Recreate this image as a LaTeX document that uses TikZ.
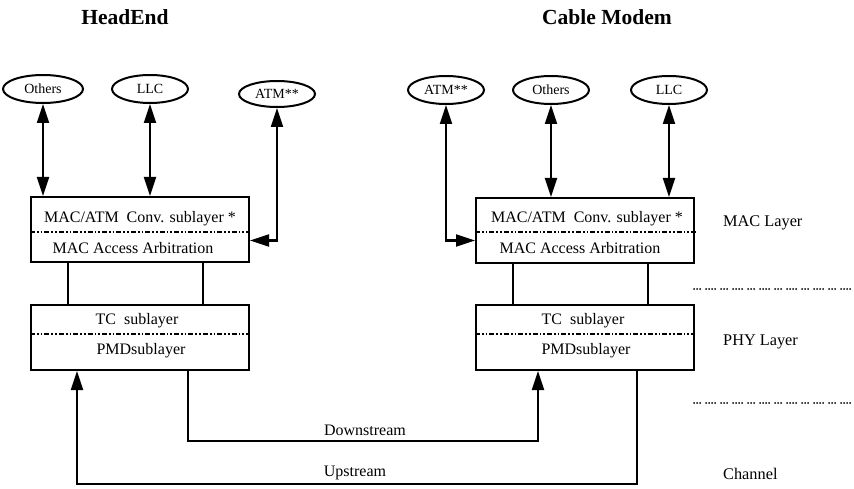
\documentclass[tikz,border=0pt]{standalone}
\usepackage{fontspec}
\setmainfont{Liberation Serif}
\usetikzlibrary{arrows.meta,shapes.geometric}
\begin{document}
\begin{tikzpicture}[x=1pt,y=-1pt,
  title/.style={font=\fontsize{21.5}{25}\selectfont\bfseries},
  proto/.style={draw,ellipse,line width=2pt,minimum width=76pt,minimum height=28pt,inner sep=0pt,font=\fontsize{14}{16}\selectfont},
  layerbox/.style={draw,line width=2pt,minimum width=218pt,minimum height=65pt,inner sep=0pt,anchor=north west},
  boxtext/.style={font=\fontsize{16}{19}\selectfont,inner sep=0pt},
  sidetext/.style={font=\fontsize{16.3}{19}\selectfont,inner sep=0pt,anchor=west},
  chantext/.style={font=\fontsize{16}{19}\selectfont,inner sep=0pt},
  sep/.style={line width=1.7pt,dash pattern=on 5pt off 2pt on 1.7pt off 2pt on 1.7pt off 2pt},
  divider/.style={line width=2pt,line cap=round,dash pattern=on 0pt off 3pt on 0pt off 3pt on 0pt off 6pt on 0pt off 3pt on 0pt off 3pt on 0pt off 3pt on 0pt off 6pt},
  link/.style={line width=2pt},
  arr/.style={line width=2.2pt,-{Triangle[length=19pt,width=12pt]}},
  dbl/.style={line width=2.2pt,{Triangle[length=19pt,width=12pt]}-{Triangle[length=19pt,width=12pt]}}
]
\useasboundingbox (0,0) rectangle (854,489);

% titles
\node[title] (he) at (125,17) {HeadEnd};
\node[title] (cm) at (607,17) {Cable Modem};

% upper-layer protocols
\node[proto,minimum width=80pt] (oth1) at (43,89) {Others};
\node[proto] (llc1) at (150,89) {LLC};
\node[proto,minimum height=26pt] (atm1) at (277,94) {ATM**};
\node[proto] (atm2) at (446,90) {ATM**};
\node[proto] (oth2) at (551,90) {Others};
\node[proto] (llc2) at (669,90) {LLC};

% layer boxes
\node[layerbox] (mac1) at (30,196) {};
\node[layerbox] (phy1) at (30,304) {};
\node[layerbox] (mac2) at (475,197) {};
\node[layerbox] (phy2) at (475,304) {};

% sublayer separators
\coordinate (s1) at (0,232);
\coordinate (s2) at (0,334);
\coordinate (s2e) at (696,0);
\draw[sep] (mac1.west |- s1) -- (mac1.east |- s1);
\draw[sep] (phy1.west |- s2) -- (phy1.east |- s2);
\draw[sep] (mac2.west |- s1) -- (s2e |- s1);
\draw[sep] (phy2.west |- s2) -- (phy2.east |- s2);

% box texts
\node[boxtext] (t1) at (140,219) {MAC/ATM\ \ Conv. sublayer *};
\node[boxtext] (t2) at (133,248) {MAC Access Arbitration};
\node[boxtext] (t3) at (137,321) {TC\ \ sublayer};
\node[boxtext] (t4) at (141,351) {PMDsublayer};
\node[boxtext] (t5) at (587,219) {MAC/ATM\ \ Conv. sublayer *};
\node[boxtext] (t6) at (580,248) {MAC Access Arbitration};
\node[boxtext] (t7) at (583,321) {TC\ \ sublayer};
\node[boxtext] (t8) at (586,351) {PMDsublayer};

% protocol arrows
\draw[dbl] (oth1.south) -- (oth1.south |- mac1.north);
\draw[dbl] (llc1.south) -- (llc1.south |- mac1.north);
\draw[dbl] (atm1.south) |- ([yshift=-11pt]mac1.east);
\draw[dbl] (oth2.south) -- (oth2.south |- mac2.north);
\draw[dbl] (llc2.south) -- (llc2.south |- mac2.north);
\draw[dbl] (atm2.south) |- ([yshift=-10pt]mac2.west);

% MAC to PHY links
\draw[link] ([xshift=38pt]mac1.south west) -- ([xshift=38pt]phy1.north west);
\draw[link] ([xshift=173pt]mac1.south west) -- ([xshift=173pt]phy1.north west);
\draw[link] ([xshift=38pt]mac2.south west) -- ([xshift=38pt]phy2.north west);
\draw[link] ([xshift=173pt]mac2.south west) -- ([xshift=173pt]phy2.north west);

% channel paths
\coordinate (dsrc) at ([xshift=158pt]phy1.south west);
\coordinate (ddst) at ([xshift=63pt]phy2.south west);
\coordinate (usrc) at ([xshift=162pt]phy2.south west);
\coordinate (udst) at ([xshift=47pt]phy1.south west);
\coordinate (dn) at (0,441);
\coordinate (up) at (0,484);
\draw[arr] (dsrc) -- (dsrc |- dn) -- (ddst |- dn) -- (ddst);
\draw[arr] (usrc) -- (usrc |- up) -- (udst |- up) -- (udst);
\node[chantext] (ds) at (365,430) {Downstream};
\node[chantext] (us) at (355,473) {Upstream};

% layer labels and boundaries
\node[sidetext] (ml) at (723,223) {MAC Layer};
\node[sidetext] (pl) at (723,342) {PHY Layer};
\node[sidetext] (cl) at (723,474) {Channel};
\coordinate (b1a) at (694,289);
\coordinate (b1b) at (854,289);
\coordinate (b2a) at (694,403);
\coordinate (b2b) at (854,403);
\draw[divider] (b1a) -- (b1b);
\draw[divider] (b2a) -- (b2b);
\end{tikzpicture}
\end{document}
